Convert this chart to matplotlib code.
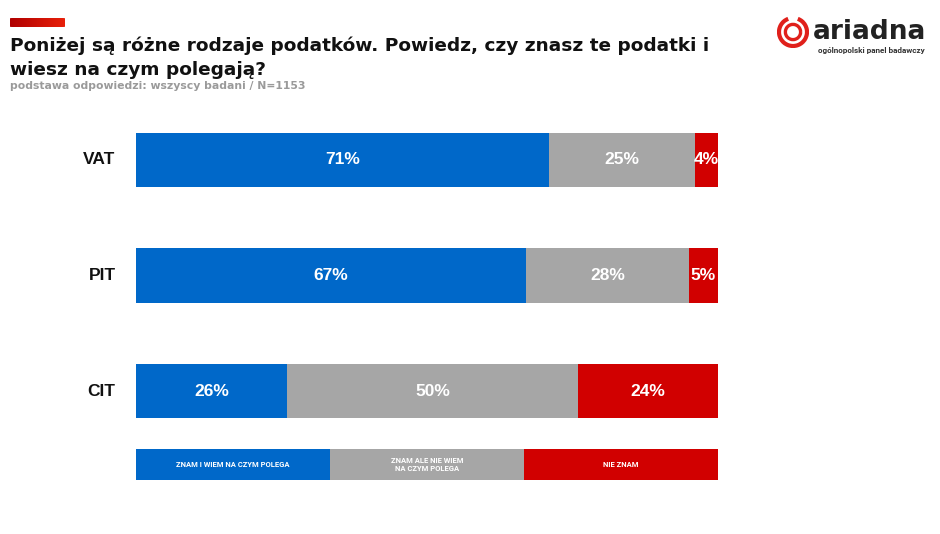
import matplotlib
matplotlib.use("Agg")
import matplotlib.pyplot as plt
from matplotlib.patches import FancyBboxPatch, Arc
from matplotlib.colors import LinearSegmentedColormap
import numpy as np

categories = ["VAT", "PIT", "CIT"]
znam_wiem = [71, 67, 26]
znam_nie_wiem = [25, 28, 50]
nie_znam = [4, 5, 24]
series_labels = ["ZNAM I WIEM NA CZYM POLEGA", "ZNAM ALE NIE WIEM\nNA CZYM POLEGA", "NIE ZNAM"]
colors = ["#0068C9", "#A6A6A6", "#D10000"]
title_lines = ["Poniżej są różne rodzaje podatków. Powiedz, czy znasz te podatki i",
               "wiesz na czym polegają?"]
subtitle = "podstawa odpowiedzi: wszyscy badani / N=1153"

W, H = 940, 534
fig = plt.figure(figsize=(W / 100, H / 100), dpi=100)
fig.patch.set_facecolor("white")
FONT = "Liberation Sans"
SMALL = "Roboto"

def fx(px):
    return px / W

def fy(py):
    return 1 - py / H

# Main bars axes
ax = fig.add_axes([fx(136), fy(418), fx(718) - fx(136), (418 - 133) / H])
ypos = [2, 1, 0]
bh = 54 / 115.5
series = [znam_wiem, znam_nie_wiem, nie_znam]
left = np.zeros(len(categories))
for vals, col in zip(series, colors):
    v = np.array(vals, dtype=float)
    ax.barh(ypos, v, left=left, height=bh, color=col, edgecolor="none")
    for y, l, w in zip(ypos, left, v):
        ax.text(l + w / 2, y, f"{int(w)}%", ha="center", va="center",
                color="white", fontsize=12.5, fontweight="bold", family=FONT)
    left += v
ax.set_xlim(0, 100)
ax.set_ylim(-bh / 2, 2 + bh / 2)
ax.axis("off")
for y, c in zip(ypos, categories):
    ax.text(-3.5, y, c, ha="right", va="center", fontsize=12.5,
            fontweight="bold", family=FONT, color="#111111")

# Legend bar
lax = fig.add_axes([fx(136), fy(480), fx(718) - fx(136), (480 - 449) / H])
n = len(series_labels)
for i, (lab, col) in enumerate(zip(series_labels, colors)):
    lax.barh(0, 1, left=i, height=1, color=col, edgecolor="none")
    lax.text(i + 0.5, 0, lab, ha="center", va="center", color="white",
             fontsize=5.5, fontweight="bold", family=SMALL, linespacing=1.2)
lax.set_xlim(0, n)
lax.set_ylim(-0.5, 0.5)
lax.axis("off")

# Top red accent bar with gradient
grad_ax = fig.add_axes([fx(10), fy(27), fx(65) - fx(10), 9 / H])
gradient = np.linspace(0, 1, 256).reshape(1, -1)
cmap = LinearSegmentedColormap.from_list("r", ["#B00000", "#E8200A"])
im = grad_ax.imshow(gradient, aspect="auto", cmap=cmap, extent=[0, 1, 0, 1])
clip = FancyBboxPatch((0.0, 0.0), 1.0, 1.0, boxstyle="round,pad=0,rounding_size=0.04",
                      transform=grad_ax.transAxes, facecolor="none", edgecolor="none")
grad_ax.add_patch(clip)
im.set_clip_path(clip)
grad_ax.axis("off")

# Titles
fig.text(fx(10), fy(46), title_lines[0], ha="left", va="center", fontsize=13.3,
         fontweight="bold", family="DejaVu Sans", color="#111111")
fig.text(fx(10), fy(70), title_lines[1], ha="left", va="center", fontsize=13.3,
         fontweight="bold", family="DejaVu Sans", color="#111111")
fig.text(fx(10), fy(86), subtitle, ha="left", va="center",
         fontsize=7.8, fontweight="bold", family="DejaVu Sans", color="#9A9A9A")

# Logo
lg = fig.add_axes([fx(777), fy(48), 32 / W, 32 / H])
lg.set_xlim(-1, 1)
lg.set_ylim(-1, 1)
lg.set_aspect("equal")
lg.add_patch(Arc((0, 0), 1.75, 1.75, theta1=110, theta2=430, color="#E0201B", lw=3.0))
lg.add_patch(Arc((0, 0), 0.95, 0.95, theta1=0, theta2=360, color="#E0201B", lw=2.4))
lg.axis("off")
fig.text(fx(813), fy(32), "ariadna", ha="left", va="center", fontsize=19,
         fontweight="bold", family="DejaVu Sans", color="#222222")
fig.text(fx(925), fy(51), "ogólnopolski panel badawczy", ha="right", va="center",
         fontsize=5.9, family=SMALL, fontweight="bold", color="#333333")

fig.savefig("out.png", dpi=100, facecolor="white")
